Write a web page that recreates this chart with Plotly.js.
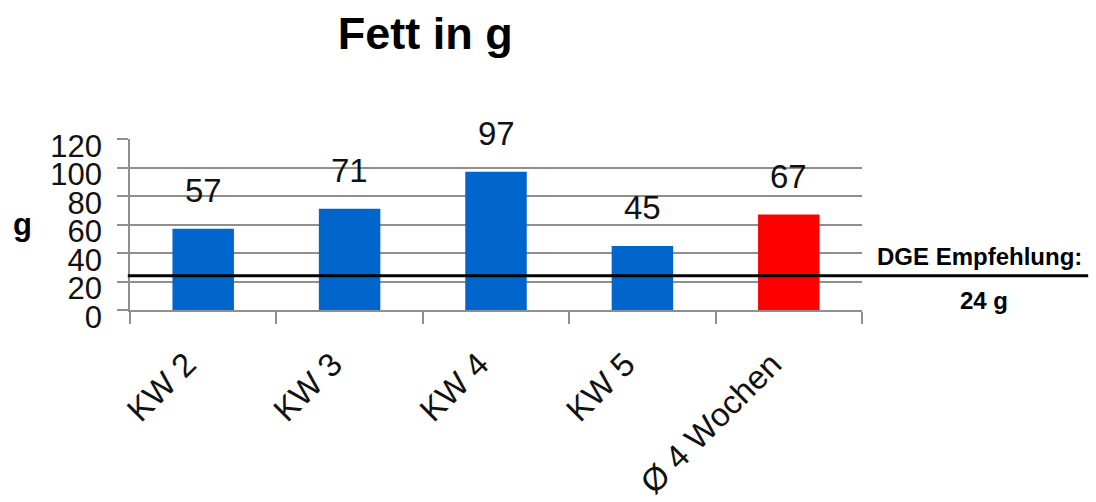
<!DOCTYPE html>
<html>
<head>
<meta charset="utf-8">
<script src="https://cdn.plot.ly/plotly-3.0.1.min.js"></script>
<style>html,body{margin:0;padding:0;background:#fff;}#chart{width:1096px;height:502px;}</style>
</head>
<body>
<div id="chart"></div>
<script>
const categories = ["KW 2", "KW 3", "KW 4", "KW 5", "Ø 4 Wochen"];
const fatValues = [57, 71, 97, 45, 67];
const barColors = ["#0066CC", "#0066CC", "#0066CC", "#0066CC", "#FF0000"];
const yTickValues = [0, 20, 40, 60, 80, 100, 120];
const dgeValue = 24;
const dgeLabel = "DGE Empfehlung:";
const dgeValueLabel = "24 g";
const chartTitle = "Fett in g";
const yLabel = "g";

const FONT = "Liberation Sans, Arial, sans-serif";
const GRID = "#8f8f8f";

const trace = {
  type: "bar",
  x: categories,
  y: fatValues,
  marker: {color: barColors, line: {width: 0}},
  width: 0.42,
  hoverinfo: "x+y"
};

const valueAnnotations = categories.map((c, i) => ({
  x: c, y: fatValues[i], xref: "x", yref: "y",
  text: String(fatValues[i]), showarrow: false,
  yanchor: "bottom", yshift: 18,
  font: {family: FONT, size: 33, color: "#111"}
}));

const layout = {
  width: 1096, height: 502,
  margin: {l: 130, r: 234, t: 139, b: 192},
  paper_bgcolor: "#fff", plot_bgcolor: "#fff",
  showlegend: false,
  title: {
    text: "<b>" + chartTitle + "</b>",
    font: {family: FONT, size: 45, color: "#000"},
    xref: "container", yref: "container",
    x: 0.388, xanchor: "center",
    y: 0.934, yanchor: "middle"
  },
  xaxis: {
    type: "category",
    range: [-0.5, 4.5],
    tickson: "boundaries",
    ticks: "outside", ticklen: 12, tickcolor: GRID, tickwidth: 1.5,
    showline: true, linecolor: GRID, linewidth: 1.5,
    showgrid: false,
    tickangle: -45,
    tickfont: {family: FONT, size: 33, color: "#111"},
    ticklabelstandoff: 20,
    ticklabelshift: -17
  },
  yaxis: {
    range: [0, 120],
    tickvals: yTickValues,
    showgrid: true, gridcolor: GRID, gridwidth: 1.5,
    zeroline: false,
    ticks: "outside", ticklen: 11, tickcolor: GRID, tickwidth: 1.5,
    showline: true, linecolor: GRID, linewidth: 1.5,
    tickfont: {family: FONT, size: 31, color: "#111"},
    ticklabelshift: 7,
    ticklabelstandoff: 9
  },
  shapes: [{
    type: "line", xref: "paper", yref: "y",
    x0: -0.003, x1: 1.309, y0: dgeValue, y1: dgeValue,
    line: {color: "#000", width: 3}
  }],
  annotations: valueAnnotations.concat([
    {
      xref: "paper", yref: "y", x: 1.161, y: dgeValue,
      text: "<b>" + dgeLabel + "</b>", showarrow: false,
      xanchor: "center", yanchor: "bottom", yshift: 4,
      font: {family: FONT, size: 24, color: "#000"}
    },
    {
      xref: "paper", yref: "y", x: 1.166, y: dgeValue,
      text: "<b>" + dgeValueLabel + "</b>", showarrow: false,
      xanchor: "center", yanchor: "top", yshift: -9,
      font: {family: FONT, size: 24, color: "#000"}
    },
    {
      xref: "paper", yref: "paper", x: -0.1475, y: 0.5,
      text: "<b>" + yLabel + "</b>", showarrow: false,
      xanchor: "center", yanchor: "middle",
      font: {family: FONT, size: 31, color: "#000"}
    }
  ])
};

Plotly.newPlot("chart", [trace], layout, {displayModeBar: false, responsive: false});
</script>
</body>
</html>
